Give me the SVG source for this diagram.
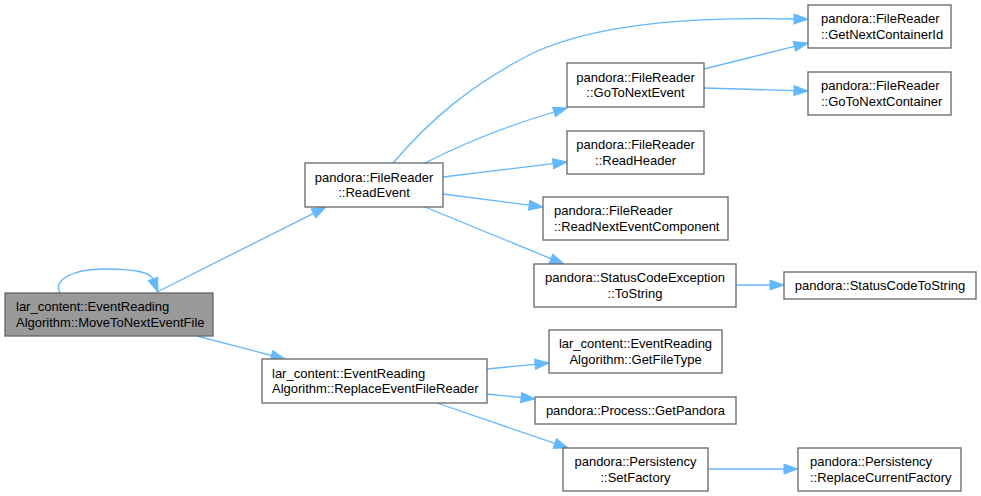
<svg xmlns="http://www.w3.org/2000/svg" width="981" height="496" viewBox="0 0 981 496">
<style>
.node rect{fill:#ffffff;stroke:#666666;stroke-width:1.3}
.node.cur rect{fill:#999999}
.node text{font-family:"Liberation Sans",Arial,sans-serif;font-size:13px;fill:#000000}
.c{text-anchor:middle}
.l{text-anchor:start}
.edge{fill:none;stroke:#63b8ff;stroke-width:1.3;marker-end:url(#arr)}
</style>
<defs>
<marker id="arr" markerUnits="userSpaceOnUse" markerWidth="15" markerHeight="11" refX="0" refY="5" orient="auto" overflow="visible">
<path d="M0,0 L14,5 L0,10 z" fill="#63b8ff" stroke="#63b8ff" stroke-width="1"/>
</marker>
</defs>
<rect width="981" height="496" fill="#ffffff"/>
<g id="edges">
<path class="edge" d="M60,293 C53,280 72,269 105,269 C130,269 150,271 153,279"/>
<path class="edge" d="M157,292 L313.5,213.3"/>
<path class="edge" d="M197,336 L271.5,355.5"/>
<path class="edge" d="M393,163 C430,120 470,85 533,53 C600,22 700,17 794,19"/>
<path class="edge" d="M425,163 C470,140 510,125 554,112"/>
<path class="edge" d="M443,177 L553.1,163.7"/>
<path class="edge" d="M443,194 L529.1,205.2"/>
<path class="edge" d="M425,207 L551,258.7"/>
<path class="edge" d="M704,69 L794.4,46.4"/>
<path class="edge" d="M704,88 L794,90.6"/>
<path class="edge" d="M736,285 L770,285"/>
<path class="edge" d="M487,369 L535.1,364.3"/>
<path class="edge" d="M487,394 L521.1,397.5"/>
<path class="edge" d="M437,403 L554.8,443.4"/>
<path class="edge" d="M708,469 L784,469"/>
</g>
<g id="MoveToNextEventFile" class="node cur">
<rect x="5" y="293" width="208" height="43"/>
<text class="l" x="16" y="311">lar_content::EventReading</text>
<text class="l" x="16" y="326.5">Algorithm::MoveToNextEventFile</text>
</g>
<g id="ReplaceEventFileReader" class="node">
<rect x="262" y="359" width="225" height="44"/>
<text class="l" x="272" y="377.5">lar_content::EventReading</text>
<text class="l" x="272" y="393">Algorithm::ReplaceEventFileReader</text>
</g>
<g id="ReadEvent" class="node">
<rect x="305" y="163" width="138" height="44"/>
<text class="c" x="374" y="181.5">pandora::FileReader</text>
<text class="c" x="374" y="197">::ReadEvent</text>
</g>
<g id="GetNextContainerId" class="node">
<rect x="808" y="5" width="143" height="43"/>
<text class="l" x="821" y="23">pandora::FileReader</text>
<text class="l" x="821" y="38.5">::GetNextContainerId</text>
</g>
<g id="GoToNextEvent" class="node">
<rect x="567" y="63" width="137" height="44"/>
<text class="c" x="635.5" y="81.5">pandora::FileReader</text>
<text class="c" x="635.5" y="97">::GoToNextEvent</text>
</g>
<g id="GoToNextContainer" class="node">
<rect x="808" y="72" width="143" height="43"/>
<text class="l" x="821" y="90">pandora::FileReader</text>
<text class="l" x="821" y="105.5">::GoToNextContainer</text>
</g>
<g id="ReadHeader" class="node">
<rect x="567" y="131" width="137" height="43"/>
<text class="c" x="635.5" y="149">pandora::FileReader</text>
<text class="c" x="635.5" y="164.5">::ReadHeader</text>
</g>
<g id="ReadNextEventComponent" class="node">
<rect x="543" y="197" width="185" height="43"/>
<text class="l" x="554" y="215">pandora::FileReader</text>
<text class="l" x="554" y="230.5">::ReadNextEventComponent</text>
</g>
<g id="StatusCodeExceptionToString" class="node">
<rect x="534" y="264" width="202" height="43"/>
<text class="c" x="635" y="282">pandora::StatusCodeException</text>
<text class="c" x="635" y="297.5">::ToString</text>
</g>
<g id="StatusCodeToString" class="node">
<rect x="784" y="272" width="192" height="27"/>
<text class="c" x="880" y="290">pandora::StatusCodeToString</text>
</g>
<g id="GetFileType" class="node">
<rect x="549" y="330" width="173" height="43"/>
<text class="c" x="635.5" y="348">lar_content::EventReading</text>
<text class="c" x="635.5" y="363.5">Algorithm::GetFileType</text>
</g>
<g id="GetPandora" class="node">
<rect x="535" y="397" width="201" height="27"/>
<text class="c" x="635.5" y="415">pandora::Process::GetPandora</text>
</g>
<g id="SetFactory" class="node">
<rect x="563" y="448" width="145" height="43"/>
<text class="c" x="635.5" y="466">pandora::Persistency</text>
<text class="c" x="635.5" y="481.5">::SetFactory</text>
</g>
<g id="ReplaceCurrentFactory" class="node">
<rect x="798" y="448" width="163" height="43"/>
<text class="l" x="810" y="466">pandora::Persistency</text>
<text class="l" x="810" y="481.5">::ReplaceCurrentFactory</text>
</g>
</svg>
